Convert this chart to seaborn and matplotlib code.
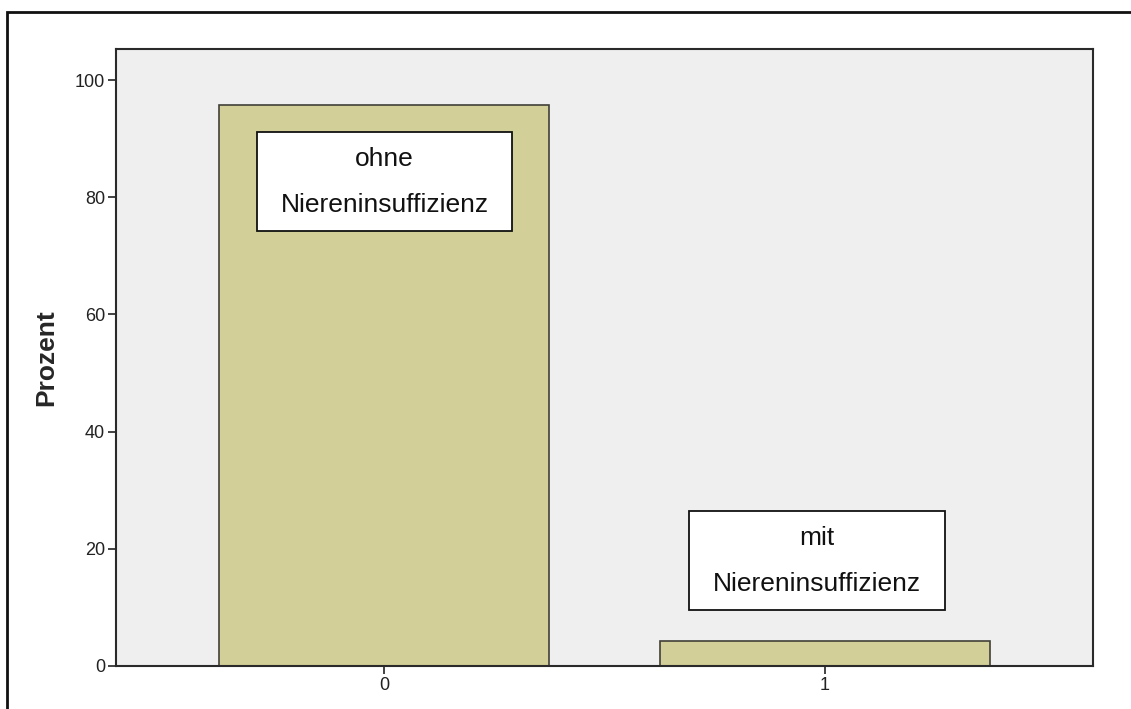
import matplotlib
matplotlib.use("Agg")
import matplotlib.pyplot as plt
from matplotlib.patches import Rectangle
import seaborn as sns
import pandas as pd

categories = ["0", "1"]
percent = [95.7, 4.3]
labels_top = ["ohne", "mit"]
labels_bottom = ["Niereninsuffizienz", "Niereninsuffizienz"]

sns.set_style("white")
plt.rcParams['font.family'] = ['Liberation Sans', 'DejaVu Sans']

df = pd.DataFrame({"cat": categories, "pct": percent})

fig = plt.figure(figsize=(11.31, 7.09), dpi=100)
ax = fig.add_axes([116/1131, 1 - 666/709, (1093 - 116)/1131, (666 - 49)/709])
ax.set_facecolor("#EFEFEF")

sns.barplot(data=df, x="cat", y="pct", color="#D3CF98", width=0.75,
            edgecolor="#404038", linewidth=1.2, saturation=1, ax=ax, zorder=2)

ax.set_xlim(-0.61, 1.61)
ax.set_ylim(0, 105.3)
ax.set_yticks([0, 20, 40, 60, 80, 100])
ax.set_xlabel("")
ax.set_ylabel("Prozent", fontsize=19, fontweight="bold", labelpad=12)
ax.tick_params(axis="both", which="both", direction="out", length=6, width=1.2,
               color="#222222", labelsize=13, labelcolor="#222222", pad=2,
               left=True, bottom=True)
for s in ax.spines.values():
    s.set_color("#2a2a2a")
    s.set_linewidth(1.5)
    s.set_visible(True)

# label boxes
box_w, box_h = 0.58, 16.9
centers = [(0.0, 82.7), (0.983, 18.0)]
for (cx, cy), t1, t2 in zip(centers, labels_top, labels_bottom):
    ax.add_patch(Rectangle((cx - box_w/2, cy - box_h/2), box_w, box_h,
                           facecolor="white", edgecolor="#111111", linewidth=1.3, zorder=3))
    ax.text(cx, cy + 3.8, t1, ha="center", va="center", fontsize=19, color="#111111", zorder=4)
    ax.text(cx, cy - 4.0, t2, ha="center", va="center", fontsize=19, color="#111111", zorder=4)

# outer frame
top = 1 - 12/709
fig.patches.append(Rectangle((7/1131, -0.2), 1.2, top + 0.2,
                             transform=fig.transFigure, fill=False,
                             edgecolor="#111111", linewidth=2))

fig.savefig("out.png", dpi=100)
